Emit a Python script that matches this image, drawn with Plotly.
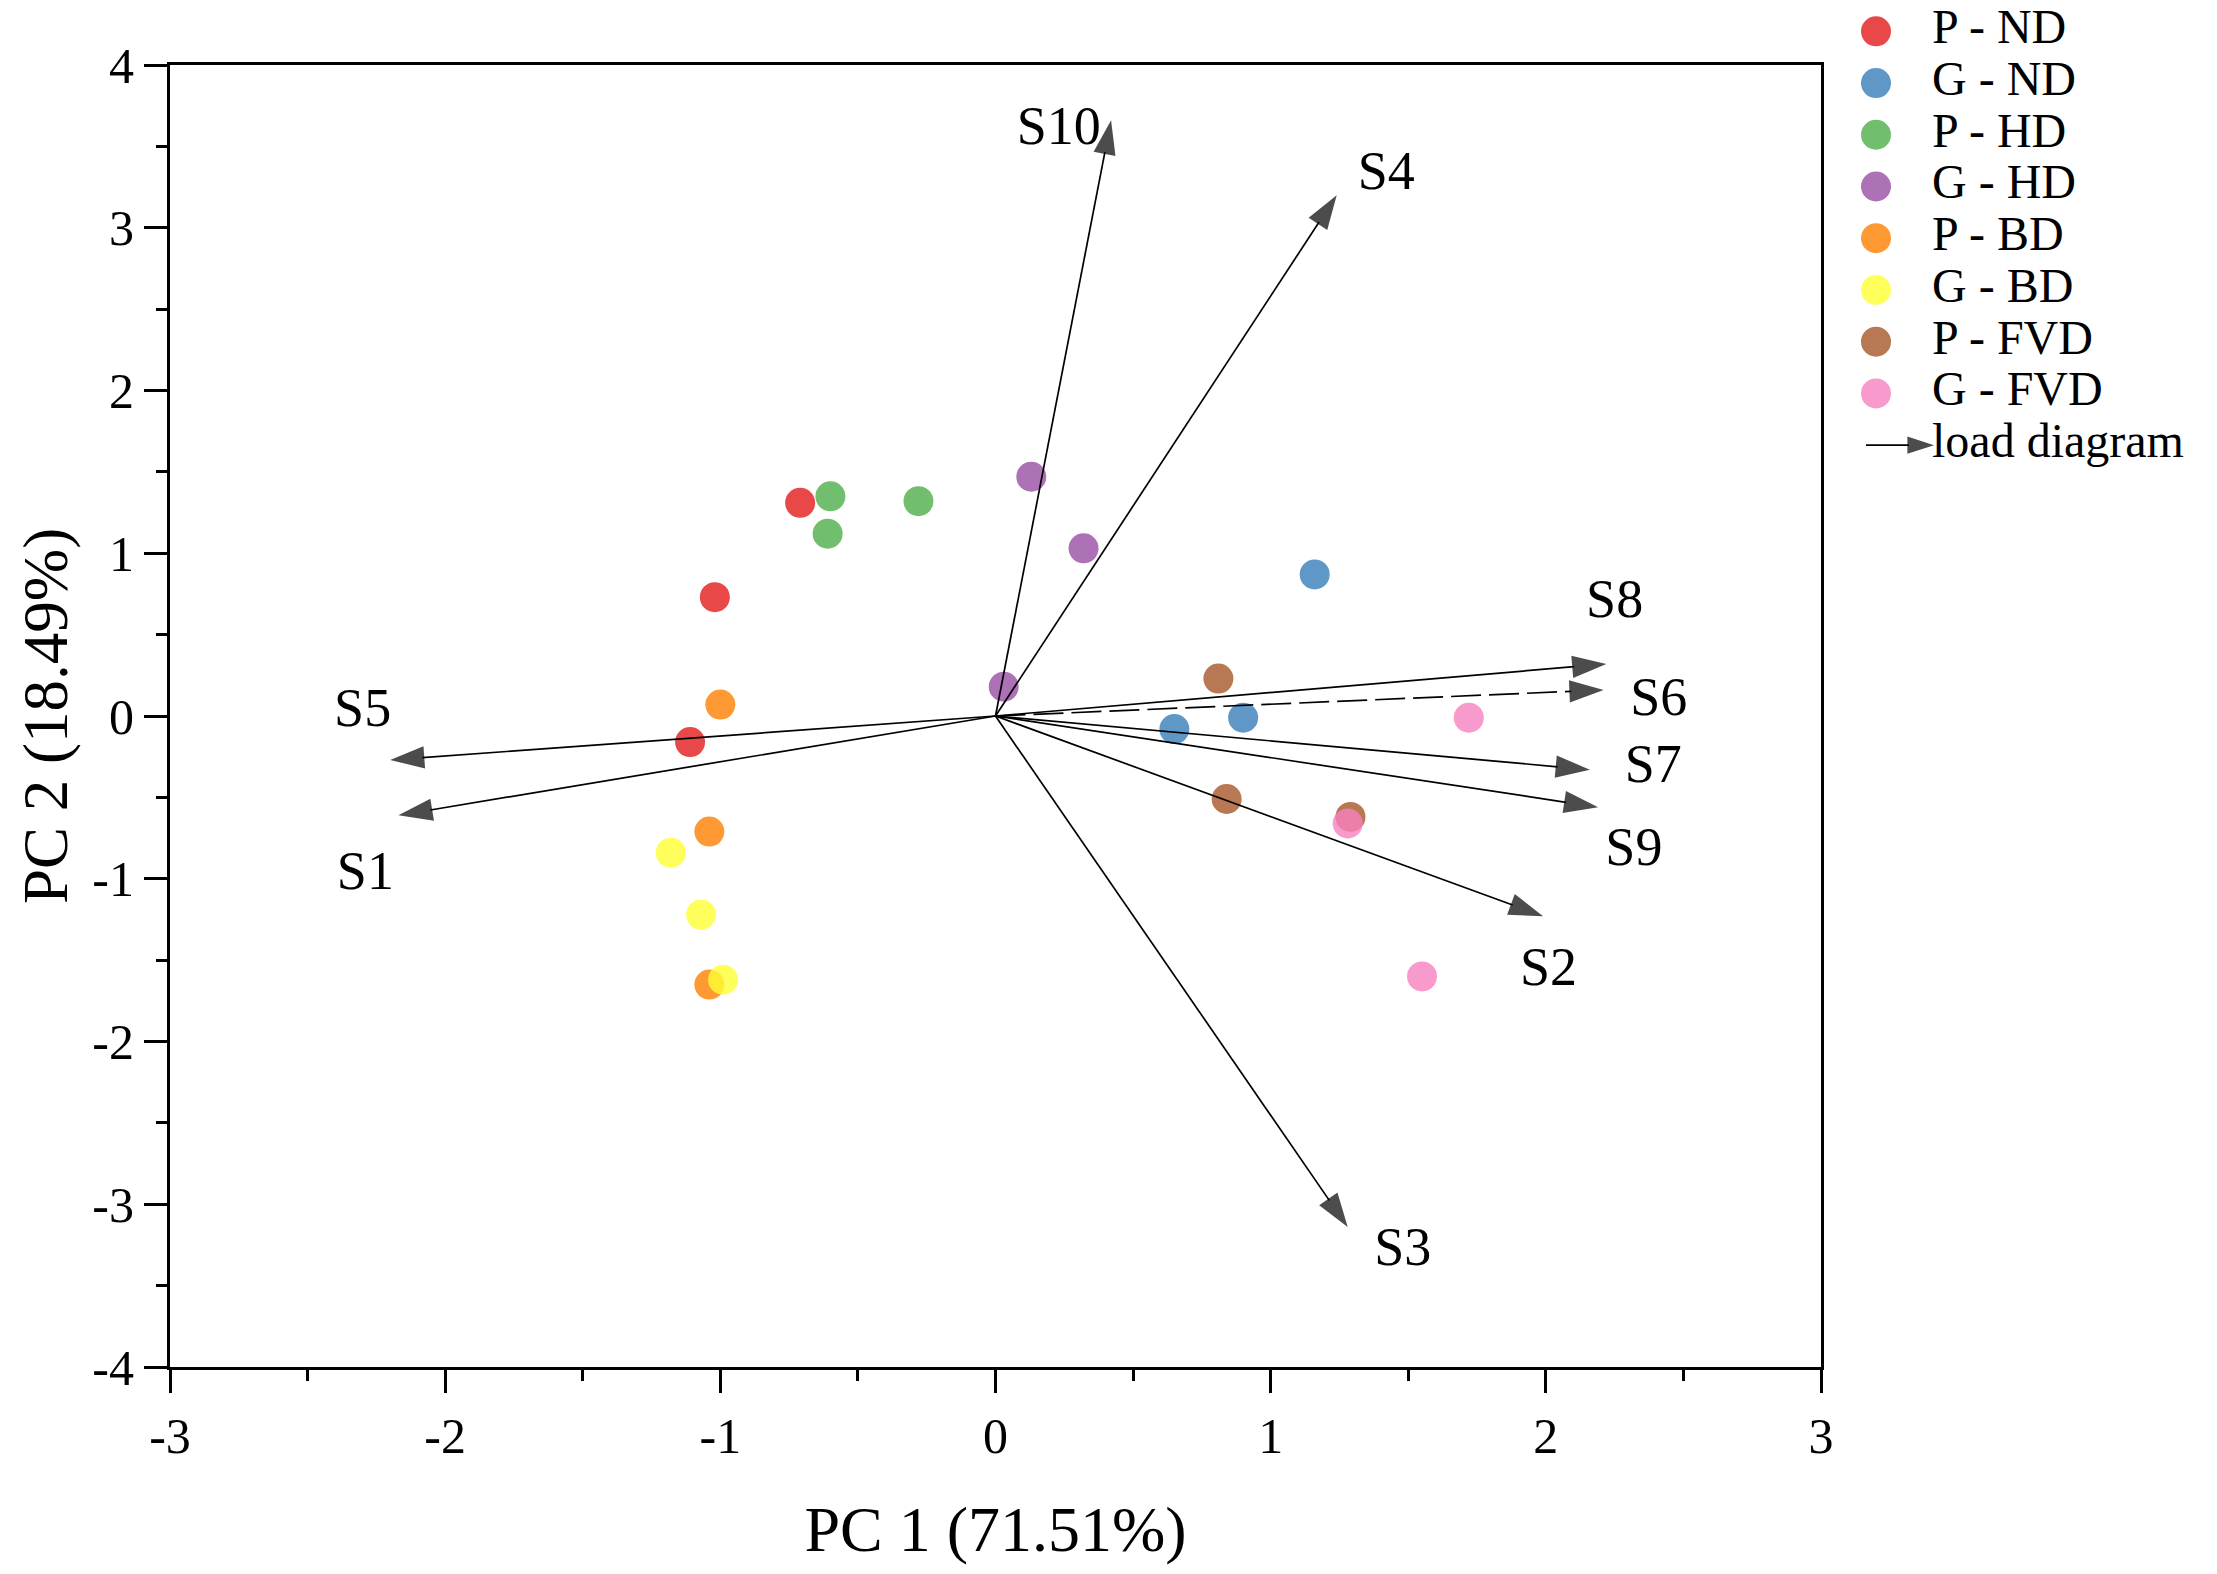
import plotly.graph_objects as go

# scores (PC1, PC2) por grupo
groups = ["P - ND", "G - ND", "P - HD", "G - HD", "P - BD", "G - BD", "P - FVD", "G - FVD"]
colors = ["#E41A1C", "#377EB8", "#4DAF4A", "#984EA3", "#FF7F00", "#FFFF33", "#A65628", "#F781BF"]

pc1 = [
    [-0.71, -1.02, -1.11],
    [1.16, 0.65, 0.90],
    [-0.60, -0.61, -0.28],
    [0.13, 0.32, 0.03],
    [-1.00, -1.04, -1.04],
    [-1.18, -1.07, -0.99],
    [0.81, 0.84, 1.29],
    [1.72, 1.28, 1.55],
]
pc2 = [
    [1.31, 0.73, -0.16],
    [0.87, -0.08, -0.01],
    [1.35, 1.12, 1.32],
    [1.47, 1.03, 0.18],
    [0.07, -0.71, -1.65],
    [-0.84, -1.22, -1.62],
    [0.23, -0.51, -0.62],
    [-0.01, -0.66, -1.60],
]

# cargas (load diagram)
variables = ["S10", "S4", "S8", "S6", "S7", "S9", "S2", "S3", "S5", "S1"]
load_x = [0.42, 1.24, 2.22, 2.21, 2.16, 2.19, 1.99, 1.28, -2.20, -2.17]
load_y = [3.66, 3.20, 0.32, 0.16, -0.33, -0.56, -1.23, -3.14, -0.27, -0.61]
label_x = [0.23, 1.42, 2.25, 2.41, 2.39, 2.32, 2.01, 1.48, -2.30, -2.29]
label_y = [3.60, 3.32, 0.69, 0.09, -0.32, -0.83, -1.57, -3.29, 0.02, -0.98]
dashed = ["S6"]

x_ticks = [-3, -2, -1, 0, 1, 2, 3]
y_ticks = [-4, -3, -2, -1, 0, 1, 2, 3, 4]

FONT = "Liberation Serif"

fig = go.Figure()

for g, c, xs, ys in zip(groups, colors, pc1, pc2):
    fig.add_trace(go.Scatter(
        x=xs, y=ys, mode="markers", name=g,
        marker=dict(size=30, color=c, opacity=0.8, line=dict(width=0)),
    ))

for v, lx, ly in zip(variables, load_x, load_y):
    fig.add_trace(go.Scatter(
        x=[0, lx], y=[0, ly], mode="lines+markers",
        line=dict(color="black", width=1.7, dash="30px,8px" if v in dashed else "solid"),
        marker=dict(symbol="arrow", angleref="previous", size=[0, 36], color="black",
                    line=dict(width=0)),
        hoverinfo="skip",
    ))

fig.add_trace(go.Scatter(
    x=label_x, y=label_y, mode="text", text=variables,
    textfont=dict(family=FONT, size=54, color="black"),
    textposition="middle center", hoverinfo="skip",
))

# leyenda dibujada en ejes propios
leg_rows = list(range(len(groups)))
fig.add_trace(go.Scatter(
    x=[36] * len(groups), y=leg_rows, mode="markers",
    marker=dict(size=30, color=colors, opacity=0.8, line=dict(width=0)),
    xaxis="x3", yaxis="y3", hoverinfo="skip", cliponaxis=False,
))
fig.add_trace(go.Scatter(
    x=[92] * (len(groups) + 1), y=leg_rows + [len(groups)], mode="text",
    text=groups + ["load diagram"], textposition="middle right",
    textfont=dict(family=FONT, size=48, color="black"),
    xaxis="x3", yaxis="y3", hoverinfo="skip", cliponaxis=False,
))
fig.add_trace(go.Scatter(
    x=[26, 94], y=[len(groups)] * 2, mode="lines+markers",
    line=dict(color="black", width=1.7),
    marker=dict(symbol="arrow", angleref="previous", size=[0, 28], color="black",
                line=dict(width=0)),
    xaxis="x3", yaxis="y3", hoverinfo="skip", cliponaxis=False,
))

axis_common = dict(
    showline=True, linecolor="black", linewidth=3, mirror=True,
    ticks="outside", ticklen=23, tickwidth=3, tickcolor="black",
    showgrid=False, zeroline=False, automargin=False,
    tickfont=dict(family=FONT, size=50, color="black"),
    minor=dict(ticks="outside", ticklen=11, tickwidth=3, tickcolor="black", dtick=0.5),
)

y_dom = [0, 1302 / 1359]

fig.update_layout(
    width=2217, height=1574,
    paper_bgcolor="white", plot_bgcolor="white",
    showlegend=False,
    margin=dict(l=162, r=8, t=0, b=215, autoexpand=False),
    xaxis=dict(
        axis_common, domain=[0, 1651 / 2047], range=[-3, 3],
        tickvals=x_ticks, ticktext=[str(v) for v in x_ticks],
        title=dict(text="PC 1 (71.51%)", font=dict(family=FONT, size=64, color="black"), standoff=44),
    ),
    yaxis=dict(
        axis_common, domain=y_dom, range=[-4, 4],
        tickvals=y_ticks, ticktext=[str(v) for v in y_ticks],
    ),
    xaxis3=dict(domain=[1670 / 2047, 2030 / 2047], range=[0, 360], visible=False, fixedrange=True),
    yaxis3=dict(domain=[897 / 1359, 1.0], range=[8.48, -0.45], visible=False, fixedrange=True),
    font=dict(family=FONT, color="black"),
    annotations=[dict(
        text="PC 2 (18.49%)", textangle=-90, showarrow=False, borderpad=0,
        xref="paper", yref="paper", x=-124 / 2047, y=(y_dom[0] + y_dom[1]) / 2,
        xanchor="center", yanchor="middle",
        font=dict(family=FONT, size=63, color="black"),
    )],
)

fig.write_html("out.html")
